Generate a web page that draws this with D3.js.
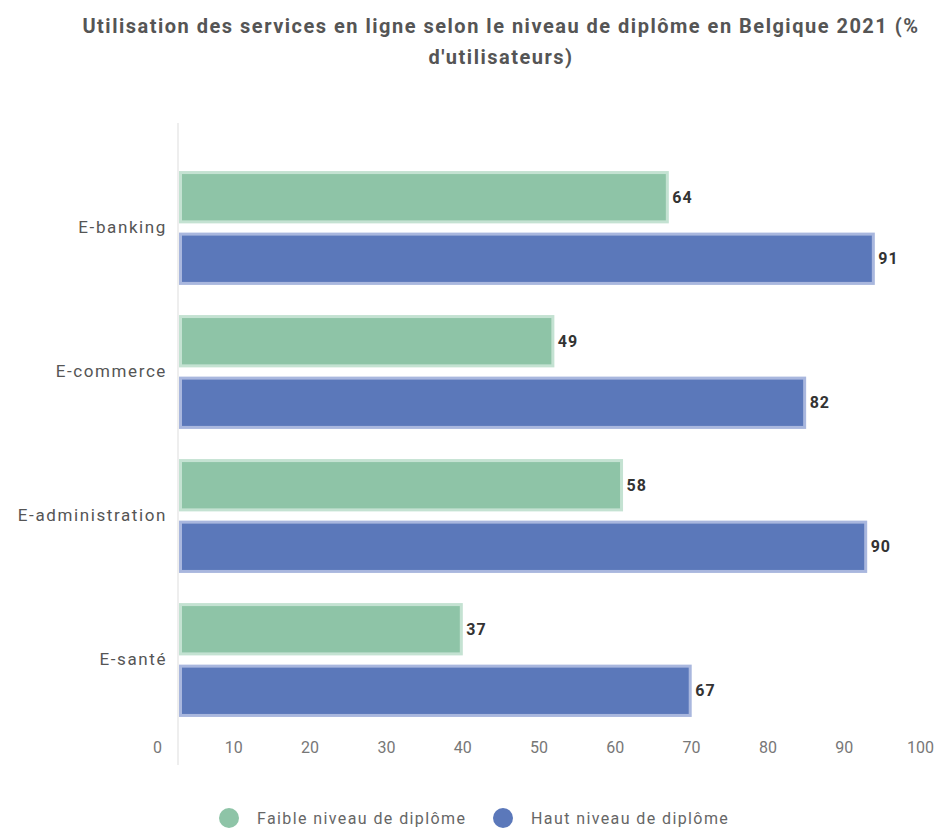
<!DOCTYPE html>
<html lang="fr">
<head>
<meta charset="utf-8">
<script src="https://cdn.jsdelivr.net/npm/d3@7"></script>
<style>
  html, body { margin: 0; padding: 0; background: #fff; }
  svg { display: block; font-family: Roboto, "Noto Sans", sans-serif; }
</style>
</head>
<body>
<svg id="chart" width="936" height="830"></svg>
<script>
// Services en ligne et niveau de diplôme, Belgique 2021 (% d'utilisateurs)
const categories = ["E-banking", "E-commerce", "E-administration", "E-santé"];
const seriesNames = ["Faible niveau de diplôme", "Haut niveau de diplôme"];
const lowValues  = [64, 49, 58, 37];
const highValues = [91, 82, 90, 67];
const tickValues = [0, 10, 20, 30, 40, 50, 60, 70, 80, 90, 100];
const titleLines = ["Utilisation des services en ligne selon le niveau de diplôme en Belgique 2021 (%", "d'utilisateurs)"];

const colors = ["#8ec4a7", "#5b78ba"];
const strokes = ["#c4e2d2", "#a9b7de"];

const svg = d3.select("#chart");

// Title
svg.append("text")
  .attr("x", 501).attr("y", 33)
  .attr("text-anchor", "middle")
  .attr("font-size", 20).attr("font-weight", 700).attr("fill", "#555")
  .attr("letter-spacing", 1.5)
  .selectAll("tspan").data(titleLines).join("tspan")
  .attr("x", 501).attr("dy", (d, i) => i ? 31 : 0)
  .text(d => d);

// Scales
const x = d3.scaleLinear().domain([0, 100]).range([0, 763]);
const originX = 179;

const y0 = d3.scaleBand().domain(categories).range([123, 765]).paddingInner(0).paddingOuter(0.229);
const y1 = d3.scaleBand().domain(seriesNames).range([0, y0.bandwidth()]).paddingInner(0.15).paddingOuter(0.245);

const rows = categories.map((c, i) => ({ cat: c, vals: [lowValues[i], highValues[i]] }));

// Vertical baseline
svg.append("line")
  .attr("x1", originX - 1).attr("x2", originX - 1)
  .attr("y1", 123).attr("y2", 765)
  .attr("stroke", "#eeeeee").attr("stroke-width", 2);

const plot = svg.append("g").attr("transform", `translate(${originX},0)`);

const groups = plot.selectAll("g.row").data(rows).join("g")
  .attr("class", "row")
  .attr("transform", d => `translate(0,${y0(d.cat)})`);

const bh = y1.bandwidth() - 3;

groups.selectAll("rect").data(d => d.vals.map((v, j) => ({ v, j }))).join("rect")
  .attr("x", 1.5)
  .attr("y", d => y1(seriesNames[d.j]) + 1.5)
  .attr("width", d => x(d.v) - 1.5)
  .attr("height", bh)
  .attr("fill", d => colors[d.j])
  .attr("stroke", d => strokes[d.j])
  .attr("stroke-width", 3);

// Value labels
groups.selectAll("text.val").data(d => d.vals.map((v, j) => ({ v, j }))).join("text")
  .attr("class", "val")
  .attr("x", d => x(d.v) + 5)
  .attr("y", d => y1(seriesNames[d.j]) + y1.bandwidth() / 2)
  .attr("dy", "0.35em")
  .attr("font-size", 16).attr("font-weight", 700).attr("fill", "#333")
  .attr("letter-spacing", 1)
  .text(d => d.v);

// Category labels
svg.append("g")
  .selectAll("text").data(categories).join("text")
  .attr("x", 167)
  .attr("y", d => y0(d) + y0.bandwidth() / 2)
  .attr("dy", "0.3em")
  .attr("text-anchor", "end")
  .attr("font-size", 17).attr("fill", "#555")
  .attr("letter-spacing", 1.6)
  .text(d => d);

// Bottom axis (labels only), set slightly left of the bar origin
const axis = svg.append("g")
  .attr("transform", "translate(157,742)")
  .call(d3.axisBottom(x).tickValues(tickValues).tickSize(0).tickPadding(0).tickFormat(d3.format("d")));
axis.select(".domain").remove();
axis.selectAll("text")
  .attr("font-size", 16).attr("fill", "#777")
  .attr("font-family", "Roboto, sans-serif");

// Legend
const legend = svg.append("g").attr("transform", "translate(0,818)");
const legendX = [229, 503];
const items = legend.selectAll("g").data(seriesNames).join("g")
  .attr("transform", (d, i) => `translate(${legendX[i]},0)`);
items.append("circle").attr("r", 10).attr("fill", (d, i) => colors[i]);
items.append("text")
  .attr("x", 28).attr("dy", "0.35em")
  .attr("font-size", 16).attr("fill", "#666")
  .attr("letter-spacing", 1.4)
  .text(d => d);
</script>
</body>
</html>
